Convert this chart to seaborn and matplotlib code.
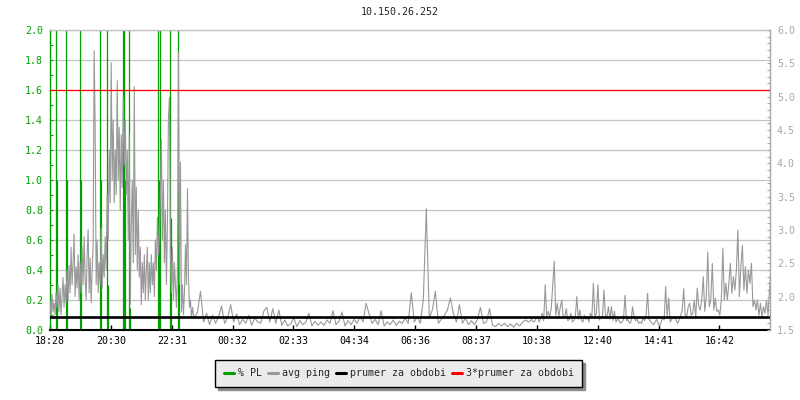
import matplotlib

matplotlib.use("Agg")

import matplotlib.pyplot as plt
import numpy as np
import pandas as pd
import seaborn as sns
from matplotlib.lines import Line2D
from matplotlib.ticker import FixedLocator, FormatStrFormatter, MultipleLocator

# ---------------------------------------------------------------------------
# Data
# ---------------------------------------------------------------------------

TITLE = "10.150.26.252"
START = "18:28"
SPAN_MIN = 1435          # visible time range, minutes

tick_labels = ["18:28", "20:30", "22:31", "00:32", "02:33", "04:34",
               "06:36", "08:37", "10:38", "12:40", "14:41", "16:42"]

# avg ping [ms] in the busy evening, one sample every 2 min from START
BUSY_STEP = 2
ping_busy_ms = [
    1.95, 1.68, 2.04, 1.77, 1.91, 1.73, 2.06, 1.84, 2.18, 1.77,
    2.13, 1.73, 2.00, 2.29, 1.84, 2.18, 1.91, 2.40, 1.95, 2.47,
    2.06, 2.74, 2.18, 2.51, 2.94, 2.00, 2.45, 2.13, 2.63, 1.95,
    2.51, 2.06, 2.74, 2.18, 2.90, 2.29, 1.95, 2.63, 3.01, 2.06,
    2.58, 1.91, 2.40, 2.74, 5.69, 4.54, 2.18, 2.85, 2.06, 2.51,
    2.18, 3.03, 2.13, 2.63, 2.29, 2.90, 2.40, 3.53, 2.85, 4.20,
    3.41, 5.51, 3.75, 4.65, 3.41, 4.20, 3.53, 5.24, 3.75, 4.54,
    3.30, 4.43, 3.64, 4.99, 3.98, 4.65, 3.53, 4.20, 2.85, 4.43,
    1.88, 3.08, 3.75, 2.51, 5.15, 2.63, 3.64, 2.40, 3.30, 2.29,
    2.74, 1.88, 2.51, 2.06, 2.63, 1.95, 2.40, 2.74, 1.95, 2.51,
    2.06, 2.63, 2.18, 2.51, 2.00, 2.85, 2.40, 3.19, 2.63, 2.96,
    3.53, 4.36, 2.85, 3.75, 2.51, 3.30, 2.18, 3.08, 4.65, 4.99,
    2.63, 2.06, 2.74, 1.95, 2.51, 2.18, 1.84, 2.40, 5.66, 2.18,
    4.02, 1.77, 2.18, 1.73, 2.06, 2.78, 2.18, 3.62, 2.29, 1.84,
    1.95, 1.68, 1.84, 1.73,
]

# avg ping [ms] overnight, one sample every 6 min (from 23:16)
QUIET_STEP = 6
ping_quiet_ms = [
    1.68, 1.77,
    2.08, 1.62, 1.75, 1.58, 1.72, 1.60, 1.70, 1.86, 1.60, 1.68,
    1.88, 1.62, 1.74, 1.58, 1.66, 1.60, 1.72, 1.57, 1.68, 1.62,
    1.60, 1.78, 1.84, 1.62, 1.82, 1.60, 1.80, 1.57, 1.65, 1.56,
    1.60, 1.68, 1.55, 1.64, 1.58, 1.62, 1.75, 1.56, 1.63, 1.57,
    1.62, 1.57, 1.65, 1.60, 1.79, 1.58, 1.63, 1.77, 1.56, 1.64,
    1.58, 1.66, 1.60, 1.70, 1.62, 1.90, 1.74, 1.60, 1.66, 1.58,
    1.79, 1.56, 1.62, 1.58, 1.65, 1.57, 1.63, 1.60, 1.68, 1.60,
    2.06, 1.62, 1.70, 1.60, 1.95, 3.32, 1.68, 1.80, 2.08, 1.60,
    1.66, 1.72, 1.80, 1.98, 1.75, 1.62, 1.88, 1.60, 1.68, 1.58,
    1.64, 1.58, 1.66, 1.84, 1.60, 1.62, 1.82, 1.57, 1.55, 1.60,
    1.56, 1.60, 1.55, 1.59, 1.54, 1.60, 1.56, 1.62, 1.65, 1.62,
]

# avg ping [ms] during the day, one sample every 3 min (from 10:28)
DAY_STEP = 3
ping_day_ms = [
    1.66, 1.62, 1.63, 1.68, 1.70, 1.62, 1.68, 1.75, 1.64, 2.18,
    1.70, 1.78, 1.70, 1.82, 2.18, 2.53, 1.72, 1.90, 1.70, 1.84,
    1.95, 1.68, 1.70, 1.82, 1.64, 1.66, 1.75, 1.62, 1.64, 1.70,
    2.00, 1.66, 1.80, 1.65, 1.62, 1.72, 1.66, 1.70, 1.62, 1.75,
    1.70, 2.20, 1.68, 1.75, 2.18, 1.65, 1.70, 1.68, 2.10, 1.72,
    1.70, 1.85, 1.66, 1.85, 1.64, 1.78, 1.62, 1.66, 1.65, 1.60,
    1.62, 1.66, 2.02, 1.64, 1.66, 1.60, 1.62, 1.85, 1.70, 1.64,
    1.66, 1.60, 1.62, 1.60, 1.68, 1.64, 1.72, 2.05, 1.66, 1.63,
    1.60, 1.58, 1.62, 1.66, 1.60, 1.56, 1.62, 1.68, 1.65, 2.15,
    1.70, 1.98, 1.62, 1.66, 1.68, 1.70, 1.64, 1.60, 1.66, 1.72,
    1.80, 2.12, 1.72, 1.70, 1.85, 1.90, 1.72, 1.75, 1.95, 1.70,
    2.13, 1.85, 1.80, 1.95, 2.30, 1.78, 2.00, 2.67, 1.85, 1.95,
    2.50, 1.80, 1.98, 1.78, 1.80, 1.72, 1.95, 2.73, 1.95, 2.20,
    1.95, 2.20, 2.50, 2.05, 2.30, 2.10, 2.40, 3.00, 2.00, 2.45,
    2.77, 2.10, 2.45, 2.05, 2.40, 2.20, 2.50, 1.85, 1.95, 1.80,
    1.95, 1.72, 1.90, 1.70, 1.85, 1.75, 1.95, 1.72, 2.10, 2.45,
]

# packet loss spikes: minutes after START and % value (2.0 = off the top)
pl_minutes = [12, 14, 32, 34, 60, 62, 100, 102, 114, 116, 145, 148, 150,
              157, 159, 216, 218, 219, 239, 241, 255, 257]
pl_percent = [2.0, 1.0, 2.0, 1.0, 2.0, 1.0, 2.0, 1.0, 2.0, 0.3, 2.0, 2.0, 1.0,
              2.0, 0.15, 2.0, 1.0, 2.0, 2.0, 0.75, 2.0, 0.45]

avg_ping = 1.7           # prumer za obdobi
avg_ping_x3 = 5.1        # 3*prumer za obdobi

# ---------------------------------------------------------------------------
# Style
# ---------------------------------------------------------------------------

GREEN = "#00a000"
GRAY = "#999999"
GRID = "#c4c4c4"
AXIS_GRAY = "#a8a8a8"
FS = 7.2

sns.set_theme(style="white")
plt.rcParams.update({"font.family": ["DejaVu Sans Mono"], "font.size": FS})


def _minutes(label: str) -> int:
    h, m = map(int, label.split(":"))
    h0, m0 = map(int, START.split(":"))
    return (h * 60 + m - (h0 * 60 + m0)) % 1440


fig = plt.figure(figsize=(8, 4), dpi=100)
ax = fig.add_axes([0.0625, 0.175, 0.9, 0.75])
ax2 = ax.twinx()

# % PL on the left scale
ax.vlines(pl_minutes, 0, pl_percent, color=GREEN, lw=0.9, zorder=2)
ax.set_ylim(0, 2.0)
ax.set_xlim(0, SPAN_MIN)

# avg ping on the right scale
busy_t = np.arange(len(ping_busy_ms)) * BUSY_STEP
quiet_t0 = len(ping_busy_ms) * BUSY_STEP
quiet_t = quiet_t0 + np.arange(len(ping_quiet_ms)) * QUIET_STEP
day_t0 = quiet_t0 + len(ping_quiet_ms) * QUIET_STEP
day_t = day_t0 + np.arange(len(ping_day_ms)) * DAY_STEP
df = pd.DataFrame({
    "t": np.concatenate([busy_t, quiet_t, day_t]),
    "ping": ping_busy_ms + ping_quiet_ms + ping_day_ms,
})
sns.lineplot(data=df, x="t", y="ping", ax=ax2, color=GRAY, lw=0.8)
ax2.axhline(avg_ping, color="black", lw=1.9, zorder=3)
ax2.axhline(avg_ping_x3, color="red", lw=0.9, zorder=3)
ax2.set_ylim(1.5, 6.0)
ax2.set_xlim(0, SPAN_MIN)
ax2.set_xlabel("")
ax2.set_ylabel("")
ax.set_xlabel("")
ax.set_ylabel("")

# grid
ax.yaxis.grid(True, color=GRID, lw=0.9)
ax.xaxis.grid(False)
ax.set_axisbelow(True)

# left axis
ax.yaxis.set_major_locator(MultipleLocator(0.2))
ax.yaxis.set_minor_locator(MultipleLocator(0.1))
ax.yaxis.set_major_formatter(FormatStrFormatter("%.1f"))
ax.tick_params(axis="y", which="both", direction="in", length=2.5, width=0.8,
               colors=GREEN, labelsize=FS, pad=5, left=True)

# right axis
ax2.yaxis.set_major_locator(MultipleLocator(0.5))
ax2.yaxis.set_minor_locator(MultipleLocator(0.1))
ax2.yaxis.set_major_formatter(FormatStrFormatter("%.1f"))
ax2.tick_params(axis="y", which="both", direction="in", length=2.5, width=0.8,
                colors=AXIS_GRAY, labelsize=FS, pad=5, right=True)

# time axis
ax.xaxis.set_major_locator(FixedLocator([_minutes(s) for s in tick_labels]))
ax.set_xticklabels(tick_labels)
ax.tick_params(axis="x", direction="in", length=3.5, width=1, colors="black",
               labelsize=FS, pad=4, bottom=True)

# spines
for sp in ax.spines.values():
    sp.set_linewidth(1)
ax.spines["left"].set_color(GREEN)
ax.spines["bottom"].set_color("black")
ax.spines["bottom"].set_linewidth(1.5)
ax.spines["top"].set_color(GRID)
ax.spines["right"].set_visible(False)
for side in ("left", "top", "bottom"):
    ax2.spines[side].set_visible(False)
ax2.spines["right"].set_color(AXIS_GRAY)
ax2.spines["right"].set_linewidth(1)

fig.text(0.5, 0.97, TITLE, ha="center", va="center", fontsize=FS)

handles = [Line2D([], [], color=c, lw=2.2) for c in (GREEN, GRAY, "black", "red")]
labels = ["% PL", "avg ping", "prumer za obdobi", "3*prumer za obdobi"]
leg = fig.legend(
    handles, labels,
    loc="upper center", bbox_to_anchor=(0.4985, 0.1), ncol=4,
    frameon=True, fancybox=False,
    shadow={"ox": 2.2, "oy": -2.2, "facecolor": "#8c8c8c", "edgecolor": "#8c8c8c", "alpha": 1},
    facecolor="#ebebeb", edgecolor="black", framealpha=1,
    fontsize=FS, handlelength=1.0, handletextpad=0.4, columnspacing=0.6,
    borderpad=0.85, borderaxespad=0,
)
leg.get_frame().set_linewidth(1)

fig.savefig("out.png", dpi=100)
